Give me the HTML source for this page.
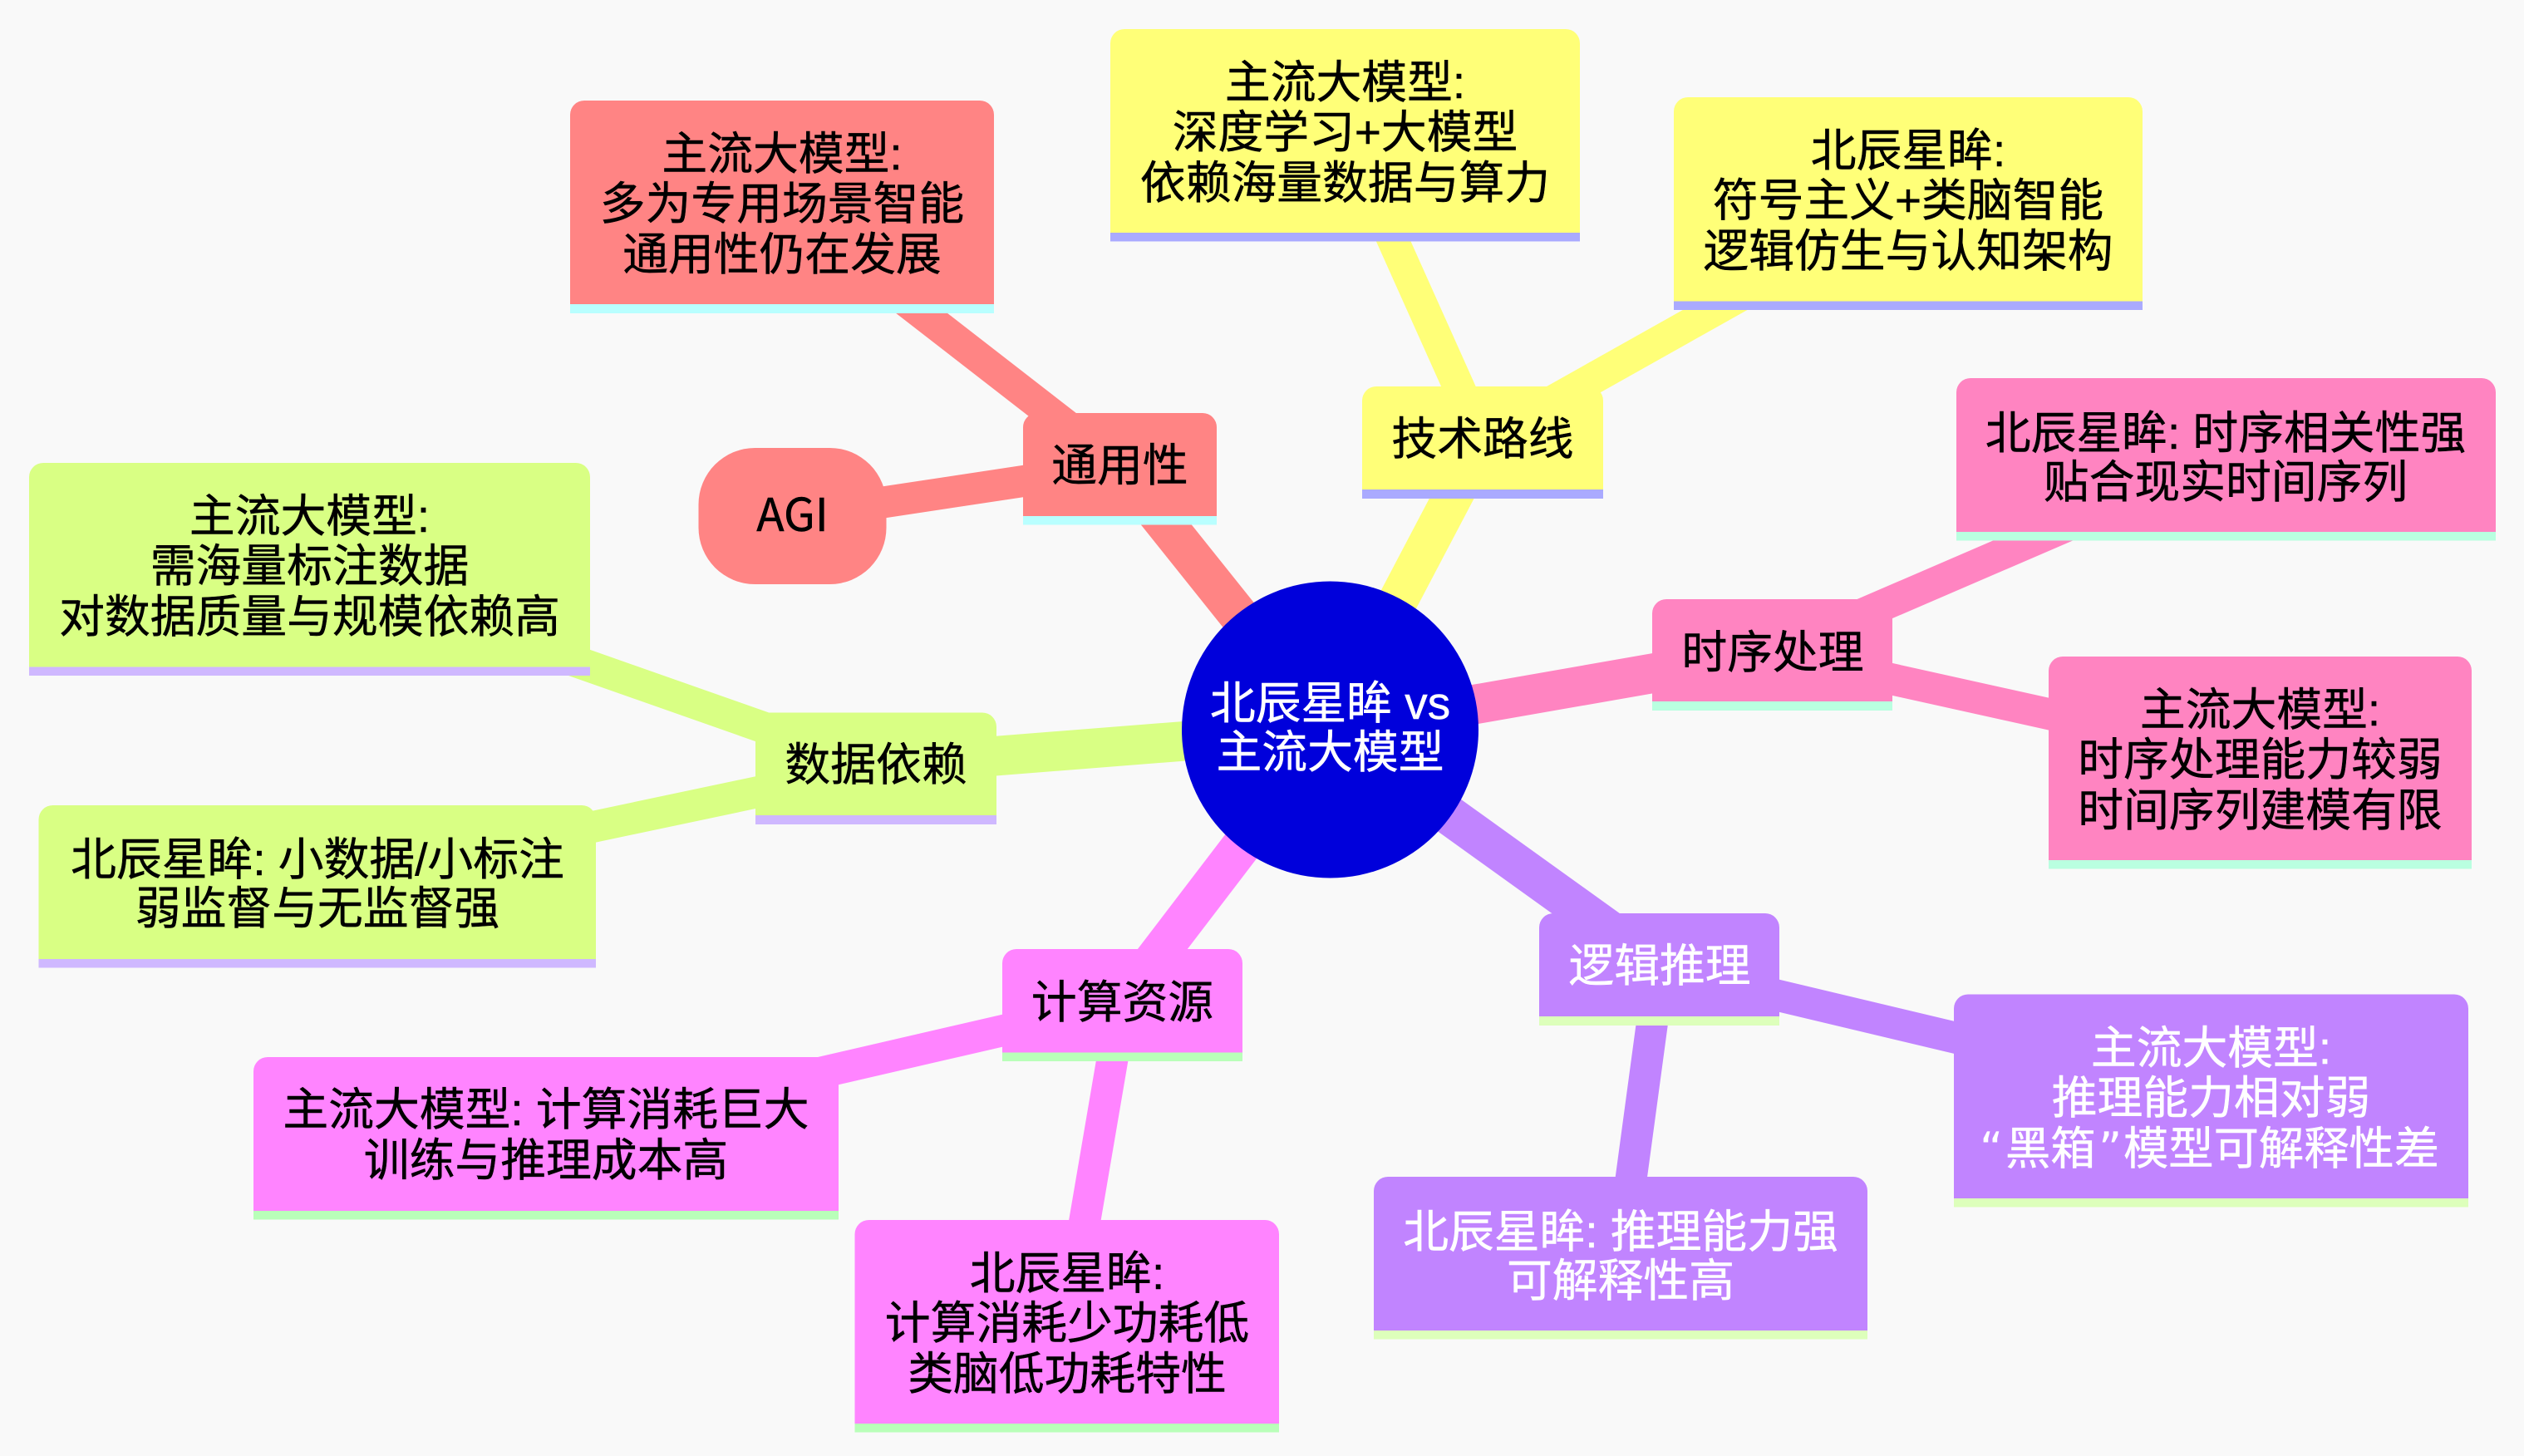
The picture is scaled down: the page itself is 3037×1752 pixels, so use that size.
<!DOCTYPE html>
<html><head><meta charset="utf-8">
<style>
html,body{margin:0;padding:0;background:#f9f9f9;width:3037px;height:1752px;overflow:hidden}
svg{display:block}
text{font-family:"Liberation Sans","Noto Sans CJK SC",sans-serif;font-size:54.8px;text-anchor:middle;fill:#000;stroke:#000;stroke-width:.5px}
.w{fill:#fff;stroke:#fff}
.q{font-family:"DejaVu Sans",sans-serif;text-anchor:start;font-size:54.4px;stroke-width:0}
.s{text-anchor:start;font-size:54.3px}
.n{font-family:"Noto Sans CJK SC",sans-serif}
</style></head><body>
<svg width="3037" height="1752" viewBox="0 0 3037 1752" xmlns="http://www.w3.org/2000/svg">
<rect width="3037" height="1752" fill="#f9f9f9"/>
<!-- edges -->
<g fill="none" stroke-linecap="butt">
<g stroke="#ff8484">
<line x1="941" y1="246.5" x2="1347" y2="561.5" stroke-width="38"/>
<line x1="953" y1="621" x2="1347" y2="561.5" stroke-width="38"/>
<line x1="1347" y1="561" x2="1600.5" y2="878" stroke-width="47.6"/>
</g>
<g stroke="#ffff78">
<line x1="1618.5" y1="160.5" x2="1784" y2="530" stroke-width="38"/>
<line x1="2296" y1="242.5" x2="1784" y2="530" stroke-width="38"/>
<line x1="1784" y1="529" x2="1600.5" y2="878" stroke-width="47.6"/>
</g>
<g stroke="#ff84c1">
<line x1="2678" y1="550.5" x2="2133" y2="785.5" stroke-width="38"/>
<line x1="2719.5" y1="915.5" x2="2133" y2="785.5" stroke-width="38"/>
<line x1="2133" y1="785" x2="1600.5" y2="878" stroke-width="47.6"/>
</g>
<g stroke="#c184ff">
<line x1="2660.5" y1="1322" x2="1997" y2="1164" stroke-width="38"/>
<line x1="1950" y1="1511.5" x2="1997" y2="1164" stroke-width="38"/>
<line x1="1997" y1="1163" x2="1600.5" y2="878" stroke-width="47.6"/>
</g>
<g stroke="#ff84ff">
<line x1="657" y1="1367" x2="1350" y2="1207" stroke-width="38"/>
<line x1="1284" y1="1593.5" x2="1350" y2="1207" stroke-width="38"/>
<line x1="1350" y1="1206" x2="1600.5" y2="878" stroke-width="47.6"/>
</g>
<g stroke="#d9ff84">
<line x1="372" y1="683" x2="1054" y2="923" stroke-width="38"/>
<line x1="382" y1="1065" x2="1054" y2="923" stroke-width="38"/>
<line x1="1054" y1="921" x2="1600.5" y2="878" stroke-width="47.6"/>
</g>
</g>

<!-- red -->
<g fill="#b9ffff">
<rect x="686" y="366" width="510" height="11"/>
<rect x="1231" y="621" width="233" height="10.5"/>
</g>
<g fill="#ff8484">
<path d="M686 366V138a17 17 0 0 1 17-17H1179a17 17 0 0 1 17 17V366Z"/>
<path d="M1231 621V514a17 17 0 0 1 17-17H1447a17 17 0 0 1 17 17V621Z"/>
<rect x="840.5" y="539" width="226" height="164" rx="68" ry="68"/>
</g>
<!-- yellow -->
<g fill="#aaaaff">
<rect x="1336" y="280" width="565" height="10.5"/>
<rect x="2014" y="362.5" width="564" height="10.5"/>
<rect x="1639" y="589" width="290" height="11"/>
</g>
<g fill="#ffff78">
<path d="M1336 280V52a17 17 0 0 1 17-17H1884a17 17 0 0 1 17 17V280Z"/>
<path d="M2014 362.5V134a17 17 0 0 1 17-17H2561a17 17 0 0 1 17 17V362.5Z"/>
<path d="M1639 589V482a17 17 0 0 1 17-17H1912a17 17 0 0 1 17 17V589Z"/>
</g>
<!-- pink -->
<g fill="#b9ffe0">
<rect x="2354" y="640" width="649" height="10.5"/>
<rect x="1988" y="844" width="289" height="11"/>
<rect x="2465" y="1035" width="509" height="10.5"/>
</g>
<g fill="#ff84c1">
<path d="M2354 640V472a17 17 0 0 1 17-17H2986a17 17 0 0 1 17 17V640Z"/>
<path d="M1988 844V738a17 17 0 0 1 17-17H2260a17 17 0 0 1 17 17V844Z"/>
<path d="M2465 1035V807a17 17 0 0 1 17-17H2957a17 17 0 0 1 17 17V1035Z"/>
</g>
<!-- purple -->
<g fill="#ddffbb">
<rect x="1852" y="1223" width="289" height="11"/>
<rect x="2351" y="1442" width="619" height="10.5"/>
<rect x="1653" y="1601" width="594" height="10.5"/>
</g>
<g fill="#c184ff">
<path d="M1852 1223V1116a17 17 0 0 1 17-17H2124a17 17 0 0 1 17 17V1223Z"/>
<path d="M2351 1442V1213.5a17 17 0 0 1 17-17H2953a17 17 0 0 1 17 17V1442Z"/>
<path d="M1653 1601V1433a17 17 0 0 1 17-17H2230a17 17 0 0 1 17 17V1601Z"/>
</g>
<!-- magenta -->
<g fill="#b9ffb9">
<rect x="1206" y="1266.5" width="289" height="10.5"/>
<rect x="305" y="1457" width="704" height="10.5"/>
<rect x="1028.5" y="1713" width="510.5" height="10.5"/>
</g>
<g fill="#ff84ff">
<path d="M1206 1266.5V1159a17 17 0 0 1 17-17H1478a17 17 0 0 1 17 17V1266.5Z"/>
<path d="M305 1457V1289a17 17 0 0 1 17-17H992a17 17 0 0 1 17 17V1457Z"/>
<path d="M1028.5 1713V1485a17 17 0 0 1 17-17H1522a17 17 0 0 1 17 17V1713Z"/>
</g>
<!-- lime -->
<g fill="#cfb8ff">
<rect x="35" y="802.5" width="675" height="10.5"/>
<rect x="909" y="981" width="290" height="11"/>
<rect x="46.5" y="1154" width="670.5" height="10.5"/>
</g>
<g fill="#d9ff84">
<path d="M35 802.5V574a17 17 0 0 1 17-17H693a17 17 0 0 1 17 17V802.5Z"/>
<path d="M909 981V874.5a17 17 0 0 1 17-17H1182a17 17 0 0 1 17 17V981Z"/>
<path d="M46.5 1154V986a17 17 0 0 1 17-17H700a17 17 0 0 1 17 17V1154Z"/>
</g>
<!-- center -->
<circle cx="1600.5" cy="878" r="178.5" fill="#0000db"/>

<!-- text -->
<text class="w" x="1600.5" y="865">北辰星眸 vs</text>
<text class="w" x="1600.5" y="924">主流大模型</text>
<g transform="translate(0,1)">
<text x="941" y="203">主流大模型:</text>
<text x="941" y="263">多为专用场景智能</text>
<text x="941" y="324">通用性仍在发展</text>
<text x="1347.5" y="578">通用性</text>
<text class="n" x="953.5" y="638">AGI</text>

<text x="1618.5" y="117">主流大模型:</text>
<text x="1618.5" y="177">深度学习+大模型</text>
<text x="1618.5" y="238">依赖海量数据与算力</text>
<text x="2296" y="199">北辰星眸:</text>
<text x="2296" y="259">符号主义+类脑智能</text>
<text x="2296" y="320">逻辑仿生与认知架构</text>
<text x="1784" y="546">技术路线</text>

<text x="2678" y="539">北辰星眸: 时序相关性强</text>
<text x="2678" y="598">贴合现实时间序列</text>
<text x="2133" y="803">时序处理</text>
<text x="2719.5" y="872">主流大模型:</text>
<text x="2719.5" y="932">时序处理能力较弱</text>
<text x="2719.5" y="993">时间序列建模有限</text>

<text class="w" x="1997" y="1180">逻辑推理</text>
<text class="w" x="2660.5" y="1279">主流大模型:</text>
<text class="w" x="2660.5" y="1339">推理能力相对弱</text>
<text class="w q" x="2382" y="1400">“</text>
<text class="w s" x="2413" y="1400">黑箱</text>
<text class="w q" x="2525" y="1400">”</text>
<text class="w s" x="2555" y="1400">模型可解释性差</text>
<text class="w" x="1950" y="1500">北辰星眸: 推理能力强</text>
<text class="w" x="1950" y="1559">可解释性高</text>

<text x="1350.5" y="1224">计算资源</text>
<text x="657" y="1353">主流大模型: 计算消耗巨大</text>
<text x="657" y="1414">训练与推理成本高</text>
<text x="1284" y="1550">北辰星眸:</text>
<text x="1284" y="1610">计算消耗少功耗低</text>
<text x="1284" y="1671">类脑低功耗特性</text>

<text x="372.5" y="639">主流大模型:</text>
<text x="372.5" y="699">需海量标注数据</text>
<text x="372.5" y="760">对数据质量与规模依赖高</text>
<text x="1054" y="938">数据依赖</text>
<text x="382" y="1052">北辰星眸: 小数据/小标注</text>
<text x="382" y="1111">弱监督与无监督强</text>
</g>
</svg>
</body></html>
